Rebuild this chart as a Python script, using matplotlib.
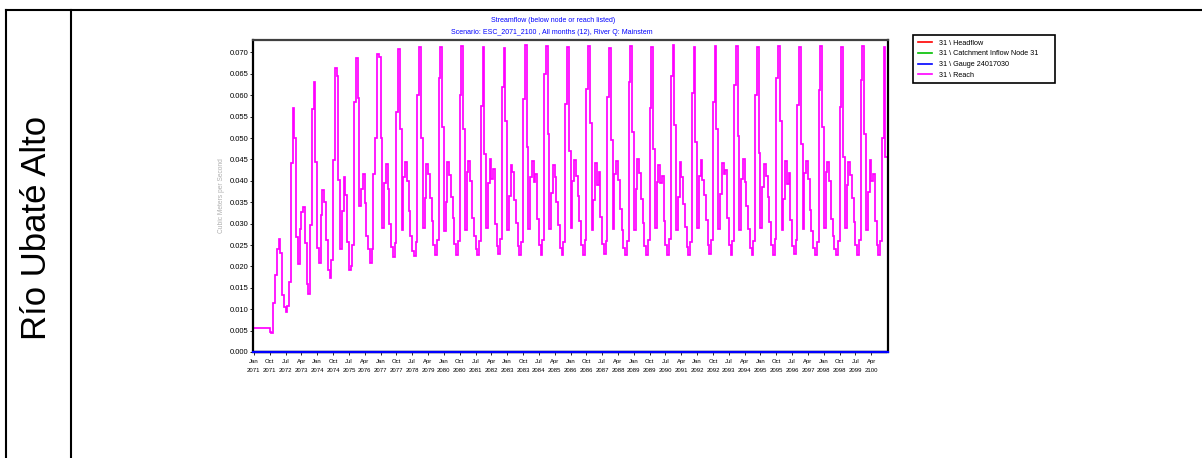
import numpy as np
import matplotlib
matplotlib.use('Agg')
import matplotlib.pyplot as plt
from matplotlib.lines import Line2D

plt.rcParams['font.family'] = ['Liberation Sans', 'DejaVu Sans']

# ==================== DATA ====================
ROW_LABEL = 'Río Ubaté Alto'
TITLE_LINES = ['Streamflow (below node or reach listed)',
               'Scenario: ESC_2071_2100 , All months (12), River Q: Mainstem']
Y_LABEL = 'Cubic Meters per Second'
SERIES_NAMES = ['31 \\ Headflow', '31 \\ Catchment Inflow Node 31',
                '31 \\ Gauge 24017030', '31 \\ Reach']
SERIES_COLORS = ['#ff0000', '#00c000', '#0000ff', '#ff00ff']
MONTH_ABBR = ['Jan', 'Feb', 'Mar', 'Apr', 'May', 'Jun',
              'Jul', 'Aug', 'Sep', 'Oct', 'Nov', 'Dec']
FIRST_YEAR = 2071
Y_TICKS = [0.000, 0.005, 0.010, 0.015, 0.020, 0.025, 0.030, 0.035,
           0.040, 0.045, 0.050, 0.055, 0.060, 0.065, 0.070]

# monthly flow of the reach (m3/s), Jan..Dec for each year
reach_2071 = [0.0055, 0.0055, 0.0055, 0.0055, 0.0055, 0.0055, 0.0055, 0.0055, 0.0055, 0.0047, 0.0045, 0.0115]
reach_2072 = [0.0180, 0.0240, 0.0264, 0.0232, 0.0133, 0.0106, 0.0094, 0.0108, 0.0163, 0.0441, 0.0571, 0.0501]
reach_2073 = [0.0269, 0.0206, 0.0287, 0.0328, 0.0339, 0.0254, 0.0158, 0.0135, 0.0297, 0.0567, 0.0632, 0.0445]
reach_2074 = [0.0242, 0.0209, 0.0320, 0.0378, 0.0351, 0.0262, 0.0192, 0.0172, 0.0215, 0.0448, 0.0664, 0.0645]
reach_2075 = [0.0403, 0.0240, 0.0330, 0.0410, 0.0367, 0.0258, 0.0191, 0.0200, 0.0250, 0.0585, 0.0687, 0.0593]
reach_2076 = [0.0340, 0.0380, 0.0415, 0.0347, 0.0270, 0.0240, 0.0207, 0.0240, 0.0417, 0.0500, 0.0696, 0.0690]
reach_2077 = [0.0500, 0.0290, 0.0395, 0.0440, 0.0380, 0.0300, 0.0245, 0.0223, 0.0255, 0.0560, 0.0707, 0.0520]
reach_2078 = [0.0285, 0.0410, 0.0445, 0.0400, 0.0330, 0.0270, 0.0236, 0.0224, 0.0258, 0.0600, 0.0712, 0.0500]
reach_2079 = [0.0290, 0.0360, 0.0440, 0.0415, 0.0360, 0.0305, 0.0250, 0.0226, 0.0262, 0.0640, 0.0712, 0.0525]
reach_2080 = [0.0283, 0.0350, 0.0445, 0.0413, 0.0362, 0.0312, 0.0252, 0.0227, 0.0260, 0.0600, 0.0716, 0.0520]
reach_2081 = [0.0286, 0.0420, 0.0446, 0.0400, 0.0312, 0.0272, 0.0241, 0.0227, 0.0259, 0.0575, 0.0713, 0.0462]
reach_2082 = [0.0290, 0.0395, 0.0452, 0.0405, 0.0428, 0.0300, 0.0248, 0.0228, 0.0263, 0.0620, 0.0711, 0.0540]
reach_2083 = [0.0284, 0.0365, 0.0438, 0.0420, 0.0355, 0.0301, 0.0247, 0.0226, 0.0258, 0.0590, 0.0717, 0.0480]
reach_2084 = [0.0288, 0.0410, 0.0447, 0.0398, 0.0415, 0.0310, 0.0251, 0.0227, 0.0261, 0.0650, 0.0714, 0.0510]
reach_2085 = [0.0287, 0.0372, 0.0436, 0.0409, 0.0350, 0.0296, 0.0244, 0.0227, 0.0257, 0.0580, 0.0712, 0.0470]
reach_2086 = [0.0289, 0.0400, 0.0449, 0.0412, 0.0365, 0.0305, 0.0249, 0.0226, 0.0262, 0.0615, 0.0716, 0.0535]
reach_2087 = [0.0284, 0.0355, 0.0441, 0.0390, 0.0420, 0.0315, 0.0253, 0.0228, 0.0260, 0.0595, 0.0711, 0.0495]
reach_2088 = [0.0288, 0.0415, 0.0446, 0.0403, 0.0335, 0.0285, 0.0243, 0.0227, 0.0259, 0.0630, 0.0715, 0.0515]
reach_2089 = [0.0286, 0.0380, 0.0450, 0.0418, 0.0358, 0.0302, 0.0248, 0.0226, 0.0261, 0.0570, 0.0713, 0.0475]
reach_2090 = [0.0290, 0.0398, 0.0437, 0.0395, 0.0412, 0.0306, 0.0250, 0.0227, 0.0263, 0.0645, 0.0717, 0.0530]
reach_2091 = [0.0285, 0.0362, 0.0444, 0.0410, 0.0345, 0.0293, 0.0245, 0.0227, 0.0258, 0.0605, 0.0712, 0.0490]
reach_2092 = [0.0289, 0.0412, 0.0448, 0.0401, 0.0368, 0.0309, 0.0251, 0.0228, 0.0262, 0.0585, 0.0715, 0.0520]
reach_2093 = [0.0287, 0.0370, 0.0442, 0.0416, 0.0425, 0.0312, 0.0249, 0.0226, 0.0260, 0.0625, 0.0714, 0.0505]
reach_2094 = [0.0286, 0.0405, 0.0451, 0.0397, 0.0340, 0.0288, 0.0244, 0.0227, 0.0259, 0.0600, 0.0712, 0.0465]
reach_2095 = [0.0290, 0.0385, 0.0439, 0.0411, 0.0362, 0.0304, 0.0250, 0.0227, 0.0263, 0.0640, 0.0716, 0.0540]
reach_2096 = [0.0285, 0.0358, 0.0446, 0.0392, 0.0418, 0.0309, 0.0248, 0.0228, 0.0261, 0.0578, 0.0713, 0.0485]
reach_2097 = [0.0288, 0.0418, 0.0447, 0.0405, 0.0332, 0.0282, 0.0242, 0.0227, 0.0258, 0.0612, 0.0715, 0.0525]
reach_2098 = [0.0289, 0.0420, 0.0445, 0.0400, 0.0310, 0.0270, 0.0240, 0.0227, 0.0260, 0.0573, 0.0712, 0.0456]
reach_2099 = [0.0289, 0.0390, 0.0443, 0.0414, 0.0360, 0.0303, 0.0249, 0.0226, 0.0262, 0.0635, 0.0714, 0.0510]
reach_2100 = [0.0286, 0.0375, 0.0448, 0.0399, 0.0415, 0.0307, 0.0250, 0.0227, 0.0259, 0.0500, 0.0713, 0.0456]

reach_by_year = [reach_2071, reach_2072, reach_2073, reach_2074, reach_2075, reach_2076,
                 reach_2077, reach_2078, reach_2079, reach_2080, reach_2081, reach_2082,
                 reach_2083, reach_2084, reach_2085, reach_2086, reach_2087, reach_2088,
                 reach_2089, reach_2090, reach_2091, reach_2092, reach_2093, reach_2094,
                 reach_2095, reach_2096, reach_2097, reach_2098, reach_2099, reach_2100]

# the three upstream series stay at zero for the whole period
headflow = [0.0] * 360
catchment_inflow = [0.0] * 360
gauge = [0.0] * 360


# ==================== FIGURE ====================
W, H = 1202, 458
fig = plt.figure(figsize=(W / 100, H / 100), dpi=100)


def fx(px):
    return px / W


def fy(py):
    return 1 - py / H


# table frame around the chart
for xs, ys in [((6, 6), (10, H)), ((71, 71), (10, H)), ((6, W), (10, 10))]:
    fig.add_artist(Line2D([fx(x) for x in xs], [fy(y) for y in ys],
                          color='black', linewidth=1.5))
fig.text(fx(37), fy(228), ROW_LABEL, rotation=90, fontsize=25,
         ha='center', va='center')

ax = fig.add_axes([fx(253), fy(352), fx(888 - 253), (352 - 40) / H])

reach = np.concatenate(reach_by_year)
edges = np.arange(len(reach) + 1)
all_series = [headflow, catchment_inflow, gauge, reach]
for name, color, values in zip(SERIES_NAMES, SERIES_COLORS, all_series):
    is_zero = name != SERIES_NAMES[-1]
    ax.stairs(values, edges, baseline=None, color=color, label=name,
              linewidth=1.6 if is_zero else 1.25, clip_on=not is_zero,
              zorder=3 if is_zero else 2)

ax.set_xlim(-0.5, 360.5)
ax.set_ylim(0, 0.0729)

tick_months = np.arange(0, len(reach), 9)
ax.set_xticks(tick_months)
ax.set_xticklabels([f'{MONTH_ABBR[m % 12]}\n{FIRST_YEAR + m // 12}' for m in tick_months],
                   fontsize=4.3, linespacing=2.0)
ax.set_yticks(Y_TICKS)
ax.set_yticklabels([f'{v:.3f}' for v in Y_TICKS], fontsize=5.5)
ax.tick_params(axis='both', length=2, width=0.6, pad=1.5)
ax.tick_params(axis='x', pad=3)

ax.set_ylabel(Y_LABEL, fontsize=4.8, color='#b0b0b0', labelpad=3)

for side, color in [('left', 'black'), ('right', 'black'),
                    ('top', '#404040'), ('bottom', '#0000ff')]:
    ax.spines[side].set_color(color)
    ax.spines[side].set_linewidth(1.6)

fig.text(fx(553), fy(20), TITLE_LINES[0], fontsize=5, color='#0000ff',
         ha='center', va='center')
fig.text(fx(552), fy(32), TITLE_LINES[1], fontsize=5, color='#0000ff',
         ha='center', va='center')

leg = fig.legend(loc='upper left',
                 bbox_to_anchor=(fx(913), fy(82), fx(1055 - 913), (82 - 35) / H),
                 mode='expand', fontsize=5.2, handlelength=2.0, handletextpad=1.0,
                 labelspacing=0.5, borderpad=0.65, borderaxespad=0, fancybox=False,
                 edgecolor='black', framealpha=1)
leg.get_frame().set_linewidth(1.2)
for handle in leg.legend_handles:
    handle.set_linewidth(1.2)

fig.savefig('out.png', dpi=100)
